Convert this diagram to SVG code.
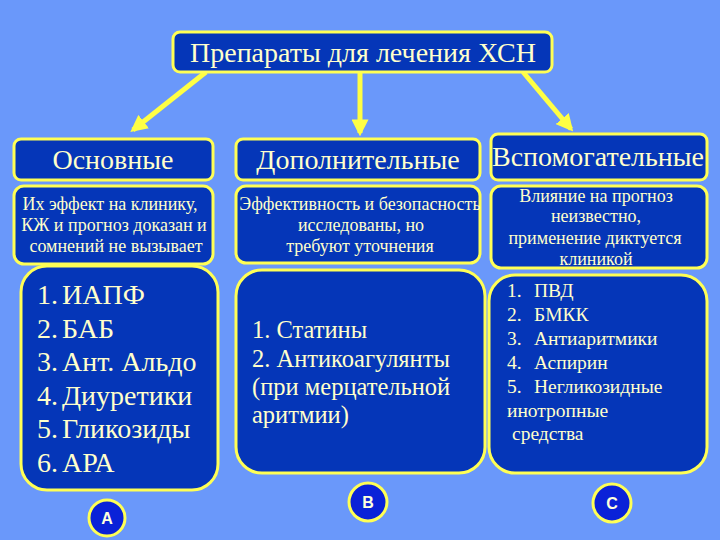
<svg xmlns="http://www.w3.org/2000/svg" width="720" height="540" viewBox="0 0 720 540">
<defs>
<style>
.box{fill:#0536B8;stroke:#FFFF55;stroke-width:3}
.t{font-family:'Liberation Serif',serif;fill:#FFFFCC}
.c{text-anchor:middle}
.circ{fill:#0A22D8;stroke:#FFFF55;stroke-width:3}
.lbl{font-family:'Liberation Sans',sans-serif;font-weight:bold;font-size:16px;fill:#FFFFDD;text-anchor:middle}
.conn{stroke:#FFFF44;stroke-width:5;fill:none}
</style>
<marker id="ah" viewBox="0 0 10 10" refX="8" refY="5" markerWidth="3.4" markerHeight="3.4" orient="auto" markerUnits="strokeWidth">
<path d="M0,0 L10,5 L0,10 z" fill="#FFFF44"/>
</marker>
</defs>
<rect width="720" height="540" fill="#6A98FA"/>
<g id="connectors">
<line class="conn" x1="206" y1="72" x2="133" y2="130" marker-end="url(#ah)"/>
<line class="conn" x1="360" y1="72" x2="360" y2="133" marker-end="url(#ah)"/>
<line class="conn" x1="523" y1="72" x2="571" y2="129" marker-end="url(#ah)"/>
</g>
<g id="title">
<rect class="box" x="173" y="32" width="379" height="40" rx="7"/>
<text class="t c" x="363" y="62" font-size="28" font-family="Liberation Serif">Препараты для лечения ХСН</text>
</g>
<g id="osn">
<rect class="box" x="14" y="139" width="199" height="41" rx="7"/>
<text class="t c" x="113" y="169" font-size="28" font-family="Liberation Serif">Основные</text>
</g>
<g id="dop">
<rect class="box" x="236" y="139" width="244" height="41" rx="7"/>
<text class="t c" x="358" y="169" font-size="28" font-family="Liberation Serif">Дополнительные</text>
</g>
<g id="vsp">
<rect class="box" x="491" y="134" width="216" height="46" rx="7"/>
<text class="t c" x="598" y="166" font-size="28" font-family="Liberation Serif">Вспомогательные</text>
</g>
<g id="osn-desc">
<rect class="box" x="14" y="186" width="199" height="78" rx="10"/>
<text class="t c" font-size="18" font-family="Liberation Serif"><tspan x="110" y="210">Их эффект на клинику,</tspan><tspan x="114" y="231">КЖ и прогноз доказан и</tspan><tspan x="116" y="252">сомнений не вызывает</tspan></text>
</g>
<g id="dop-desc">
<rect class="box" x="236" y="186" width="244" height="77" rx="10"/>
<text class="t c" font-size="18" font-family="Liberation Serif"><tspan x="360" y="210">Эффективность и безопасность</tspan><tspan x="361" y="231">исследованы, но</tspan><tspan x="360" y="252">требуют уточнения</tspan></text>
</g>
<g id="vsp-desc">
<rect class="box" x="491" y="186" width="216" height="82" rx="10"/>
<text class="t c" font-size="18" font-family="Liberation Serif"><tspan x="596" y="202">Влияние на прогноз</tspan><tspan x="596" y="222">неизвестно,</tspan><tspan x="595" y="244">применение диктуется</tspan><tspan x="596" y="265">клиникой</tspan></text>
</g>
<g id="osn-list">
<rect class="box" x="21" y="266" width="197" height="224" rx="26"/>
<text class="t" font-size="28" font-family="Liberation Serif"><tspan x="37" y="304">1.</tspan><tspan x="62" y="304">ИАПФ</tspan><tspan x="37" y="338">2.</tspan><tspan x="62" y="338">БАБ</tspan><tspan x="37" y="371">3.</tspan><tspan x="62" y="371">Ант. Альдо</tspan><tspan x="37" y="405">4.</tspan><tspan x="62" y="405">Диуретики</tspan><tspan x="37" y="438">5.</tspan><tspan x="62" y="438">Гликозиды</tspan><tspan x="37" y="472">6.</tspan><tspan x="62" y="472">АРА</tspan></text>
</g>
<g id="dop-list">
<rect class="box" x="236" y="270" width="249" height="203" rx="26"/>
<text class="t" font-size="24.5" font-family="Liberation Serif"><tspan x="252" y="338">1. Статины</tspan><tspan x="252" y="367">2. Антикоагулянты</tspan><tspan x="252" y="395">(при мерцательной</tspan><tspan x="252" y="423">аритмии)</tspan></text>
</g>
<g id="vsp-list">
<rect class="box" x="489" y="275" width="218" height="198" rx="26"/>
<text class="t" font-size="19.5" font-family="Liberation Serif"><tspan x="507" y="297">1.</tspan><tspan x="534" y="297">ПВД</tspan><tspan x="507" y="321">2.</tspan><tspan x="534" y="321">БМКК</tspan><tspan x="507" y="345">3.</tspan><tspan x="534" y="345">Антиаритмики</tspan><tspan x="507" y="369">4.</tspan><tspan x="534" y="369">Аспирин</tspan><tspan x="507" y="393">5.</tspan><tspan x="534" y="393">Негликозидные</tspan><tspan x="507" y="417">инотропные</tspan><tspan x="512" y="440">средства</tspan></text>
</g>
<g id="label-a">
<circle class="circ" cx="107" cy="518" r="18"/>
<text class="lbl" x="107" y="524">A</text>
</g>
<g id="label-b">
<circle class="circ" cx="368" cy="502" r="19"/>
<text class="lbl" x="368" y="508">B</text>
</g>
<g id="label-c">
<circle class="circ" cx="612" cy="503" r="19"/>
<text class="lbl" x="612" y="509">C</text>
</g>
</svg>
